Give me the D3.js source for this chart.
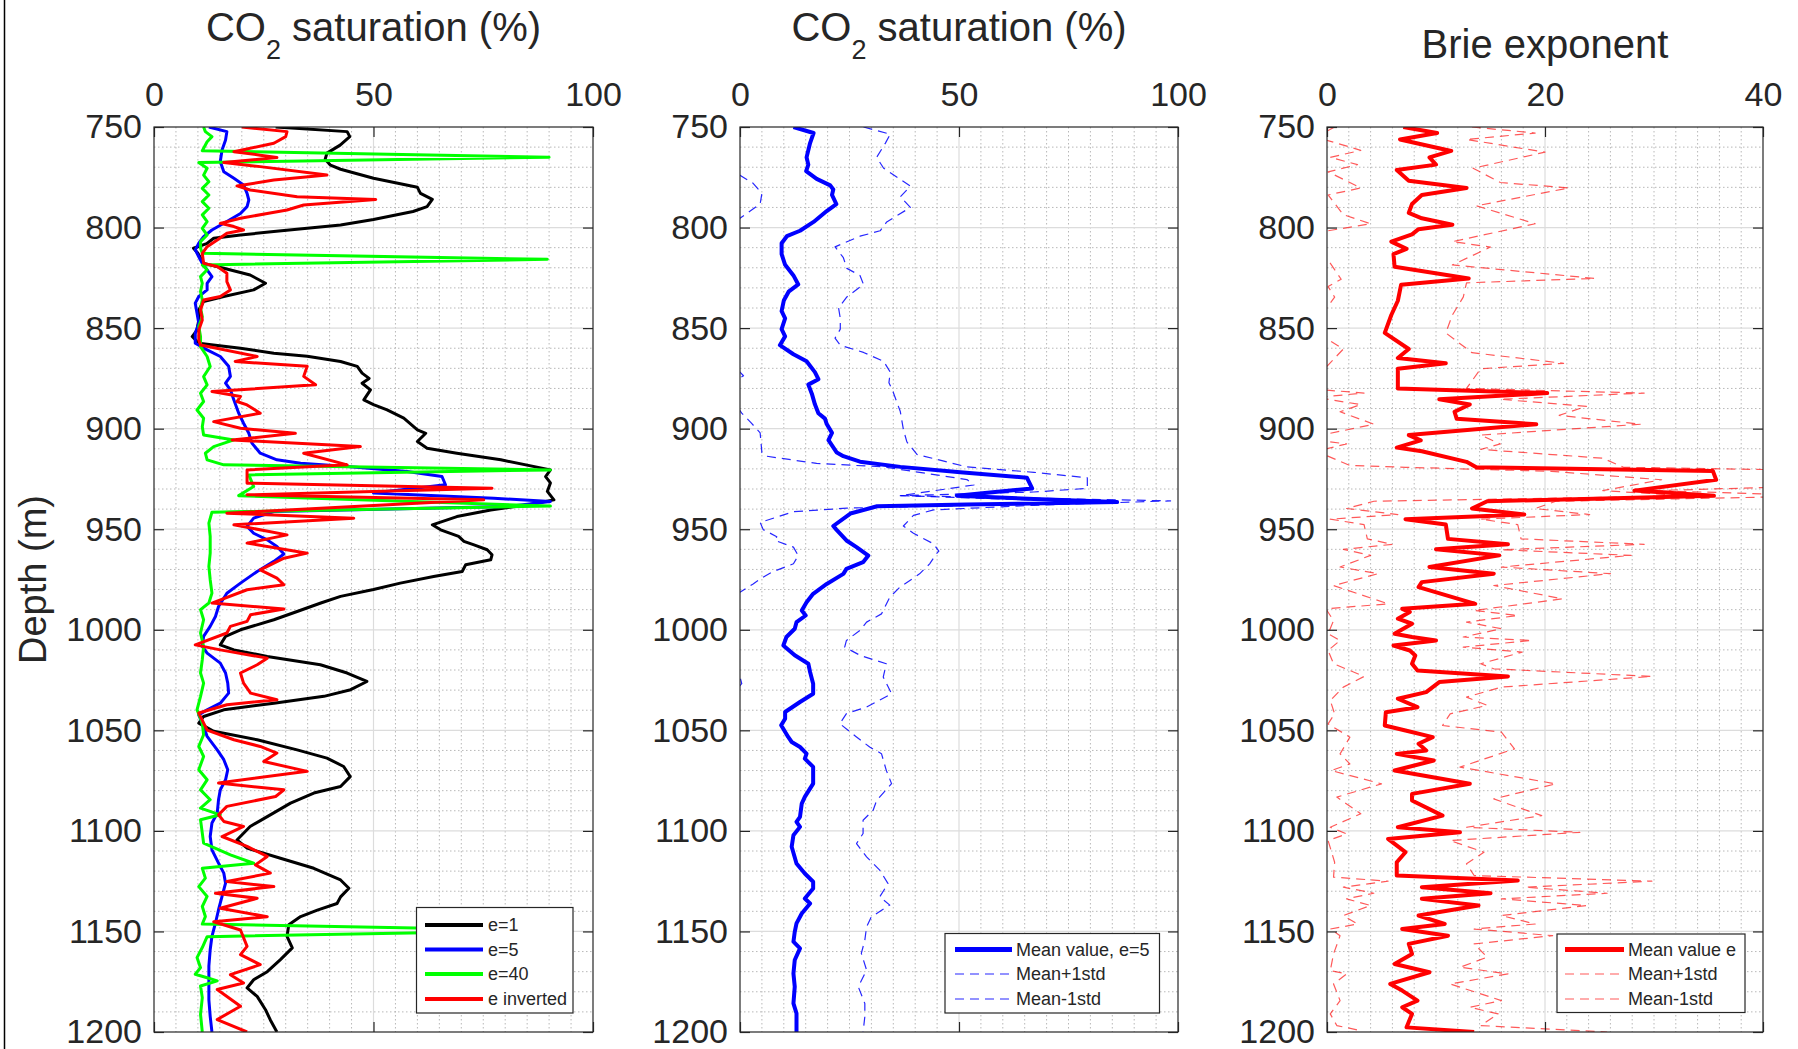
<!DOCTYPE html>
<html>
<head>
<meta charset="utf-8">
<script src="https://cdn.jsdelivr.net/npm/d3@7"></script>
<style>
body{margin:0;background:#fff;}
svg text{font-family:"Liberation Sans",Arial,Helvetica,sans-serif;fill:#262626;}
</style>
</head>
<body>
<script>
// depth (m), value pairs
const satE1 = [[750,27.7],[752.3,44],[754.8,44.6],[759,42.4],[763,39.4],[766,39],[769,40.2],[771,42.5],[775.5,50],[780,60],[783,60.7],[786,63.4],[789.6,62.2],[792,59],[796,50],[798.7,42.5],[800.4,34.9],[802,27.3],[803.7,19.7],[805.3,13.6],[808,12],[810.3,9],[812.8,10],[817.8,11.3],[820.2,15.9],[823.6,21.9],[827.7,25.4],[831,22.7],[834.3,15.9],[836.8,11.3],[841,10.2],[846,10.2],[851,9.8],[854.2,8.7],[857.5,10.2],[860,19.7],[862.5,27.3],[864,34.9],[866.6,42.5],[869,46.3],[872.4,47.4],[875,49],[877.4,47.4],[880.7,49.3],[885.7,47.8],[888,50],[890.7,53.1],[894.8,56.9],[900.6,60],[902.3,61.9],[906.4,60],[909.7,62.2],[912.2,69],[915.5,79],[920.5,90.3],[923.8,89.2],[927,90.3],[931.2,89.6],[935.4,91.1],[937.9,85],[940.4,76.7],[943.7,69],[947.8,63.4],[950.3,65.3],[953.6,69.4],[956,70.6],[957.8,72.9],[960.2,75.9],[962.7,77],[965.2,76.7],[967.7,71],[971,70.2],[973.5,63.7],[976.8,56.1],[980,50],[983.4,42.5],[986.7,38],[990.9,32.6],[995,27.3],[1000,19.7],[1003.3,16.3],[1007.5,15.1],[1010,18.2],[1013.3,25.8],[1017.4,37.9],[1021.5,44],[1025.7,48.5],[1029.8,44.8],[1033.1,38.7],[1036.5,27.3],[1039.8,15.9],[1043.1,11.3],[1046.4,10.2],[1050.5,13.6],[1054.7,23.5],[1059.7,32.6],[1063.8,39.4],[1068,43.2],[1073,44.7],[1077.9,42.5],[1081.2,36.4],[1086.2,31.1],[1092.9,25.8],[1097.8,21.9],[1104.5,18.9],[1108.6,21.2],[1113.6,28.8],[1118.6,36.4],[1124.4,42.5],[1128.5,44.4],[1132.8,42.5],[1136.1,41.7],[1139.4,37.2],[1142.6,33.4],[1146.7,30.7],[1152.5,30.3],[1158.2,31.5],[1164,28.8],[1170,25.8],[1174,22.7],[1178.1,21.2],[1182.3,23.5],[1188.9,25.4],[1194,26.5],[1200,28]];

const satE5 = [[750,12.5],[752.3,16.6],[756.5,16.3],[761.4,15.5],[767.2,15.1],[772.2,15.9],[775.5,18.2],[778.8,20.4],[783,21.2],[786.3,21.6],[789.6,21.2],[793,19.7],[797,16.6],[801.2,13.2],[804.5,11.3],[807.8,10.2],[811.1,9.4],[814.5,10.2],[817.8,11],[821.1,12.1],[824.4,13.2],[827.7,12.1],[831,12.1],[834.3,10.2],[837.6,9.4],[842.6,9.8],[847.6,10.2],[852.6,9.4],[857.5,9.4],[860.8,12.1],[864.1,15.1],[869,17],[874,17.4],[877.4,16.3],[880.7,17.4],[885.7,18.2],[892.3,19.3],[897.3,20.4],[902.3,21.6],[907.2,22.3],[912.2,24.2],[915.5,28],[917.2,33.4],[918.8,44],[921.3,57.7],[923.8,65.6],[927.9,66.4],[932,50],[934.6,77.4],[936.2,90.3],[938.7,80.5],[941.2,27.3],[944.5,22.7],[948.6,21.2],[952,22.7],[955.3,25.8],[958.6,28],[962.3,29.6],[966,27.3],[971,23.5],[976.8,19.7],[981.8,16.6],[988.4,14.7],[993.4,14],[998.3,12.8],[1003.3,11.3],[1008.3,11],[1011.6,12.1],[1016.6,15.1],[1021.5,16.3],[1026.5,16.8],[1031.5,17],[1036.5,15.1],[1039.8,12.1],[1042.3,10.2],[1046.4,11],[1053,12.1],[1059.7,14.4],[1064.6,15.9],[1069.6,16.8],[1074.6,16.3],[1079.6,15.1],[1084.5,14.7],[1091.2,14.4],[1096.1,13.2],[1102.8,12.8],[1109.4,13.2],[1116,14.7],[1121,15.9],[1126,16.3],[1132.6,15.5],[1139.2,14.7],[1145.8,14],[1152.4,13.2],[1159.1,12.8],[1167.3,12.5],[1175.7,12.5],[1184,12.5],[1192.2,12.8],[1200,13.2]];

const satE40 = [[750,11.3],[752.3,11.7],[754.8,13.2],[757.3,12.1],[761.8,11],[765,90],[767.7,10.2],[770.5,12.1],[773.9,11.3],[777.2,12.5],[780.5,11],[783.8,12.5],[787.1,11],[790.4,12.5],[793.7,11],[797,12.1],[800.4,11],[803.7,12.1],[807,10.6],[810.3,10.6],[812.8,11],[815.8,89.6],[818.6,11],[821,12.1],[824.4,10.6],[827.7,11],[831.8,10.6],[836,11],[840,10.6],[844.3,11],[849.2,10.2],[854.2,10.6],[859.2,10.6],[864.1,12.1],[869.1,12.8],[874.1,11.3],[878.2,12.1],[882.4,10.6],[886.5,11.3],[890.7,9.8],[894.8,11.3],[899,11],[903.1,11.3],[905.6,18.2],[908.9,13.6],[912.2,11.7],[915.5,12.1],[918,15.9],[920.5,90.3],[923,21.6],[928.8,22.7],[933.3,19.3],[938.5,90.3],[941.5,13.2],[947,12.5],[953.6,12.8],[961.9,12.8],[968.5,12.5],[975.1,12.8],[981.8,13.2],[986.7,12.5],[990,10.6],[995,11.3],[1001.6,10.6],[1008.3,11.3],[1014.9,11],[1021.5,10.6],[1026.5,11.3],[1033.1,10.6],[1039.8,9.8],[1046.4,11],[1052.2,11.3],[1058,10.2],[1063,11.3],[1069.6,10.2],[1074.6,12.1],[1079.6,10.6],[1084.5,12.8],[1088.7,10.6],[1092,15.1],[1094.5,10.6],[1101.1,11],[1106.1,11.3],[1111.9,17.4],[1116.1,22.7],[1118.6,11],[1123.5,11.7],[1127.7,10.2],[1132.6,12.1],[1137.6,11],[1142.6,11.7],[1146.3,11],[1149.5,90],[1152.6,12.1],[1158,11],[1163,9.8],[1168,10.6],[1171.3,9.4],[1173,12.1],[1174.6,14.4],[1177.1,10.6],[1182.9,11],[1191.2,10.6],[1200,11]];

const satInv = [[750,20],[752.3,30.3],[754.8,30],[758.1,27.3],[762.3,18.2],[764,24.2],[765.2,28],[767.7,15.9],[769.7,24.2],[773.9,39.4],[776.4,27.3],[779.3,18.9],[781.3,21.9],[784.7,32.6],[786,50.5],[788.8,34.1],[791.3,30.3],[793,25.8],[795.4,19.7],[797.9,15.1],[799.5,18.2],[801.2,20.4],[802.8,16.6],[806.2,14.4],[809.5,12.1],[812.8,11],[817.8,11.3],[819.4,14.4],[822.7,16.6],[826.9,16.6],[831,17.4],[834.3,15.1],[836,11.3],[841,10.6],[846,11],[851,10.2],[855.9,10.2],[858.4,10.6],[864.1,23.5],[866.6,18.5],[869,34.9],[874,34.1],[878.2,36.8],[881.5,13.2],[884,19.7],[886.5,18.9],[888.2,21.2],[892.3,24.2],[896.5,13.6],[899.8,19.7],[902.3,32.2],[905.6,17.8],[908.9,47],[912.2,34.1],[918,44],[920.5,21.2],[927.1,21.2],[929.6,77],[932.9,21.2],[935.4,75.1],[942,16.6],[944.5,45.5],[947.8,18.2],[952.8,30.3],[956.9,21.2],[961.9,34.9],[964.4,29.6],[970.2,24.2],[974.3,28],[977.6,29.6],[980.1,21.2],[986.7,13.2],[989.7,29.6],[992.5,22],[995.8,21.2],[998.3,17.4],[1001.6,16.6],[1007.5,9.4],[1010,15.1],[1014.1,25.8],[1017.4,23.5],[1021.5,19.7],[1026.5,20.4],[1031.5,22],[1034.8,28],[1037.3,16.6],[1041.4,10.2],[1049.9,12.1],[1054.7,18.2],[1058,24.2],[1061.3,28],[1065.5,25],[1070.4,34.9],[1076.2,14.7],[1079.6,29.6],[1082.9,27.7],[1087.8,16.6],[1092,14.7],[1095.3,15.9],[1097.8,20.4],[1102.8,15.5],[1107.7,21.2],[1112.7,25.8],[1116.9,23.1],[1121,26.5],[1125.2,16.6],[1127.7,27.3],[1131,14],[1133.5,23.5],[1138.5,15.1],[1142.7,25.8],[1145.2,13.6],[1149.3,19.7],[1157.4,21.2],[1161.5,19.7],[1166.5,24.2],[1171.5,17.4],[1175.6,20.4],[1178.9,14.4],[1187.2,19.7],[1193.8,14.4],[1200,21.2]];

const satMean = [[750,12.2],[753,16.8],[758,16],[765.1,15.2],[768.7,15.6],[771.9,15.1],[775.8,17.5],[779,20.6],[781.1,21.3],[783.8,21],[788.3,22],[791.8,19.8],[797.2,16.8],[801.6,13.7],[804.3,10.7],[807.8,9.5],[813.2,9.5],[818.5,10.3],[823.8,12.2],[828.3,13.3],[831.9,11.1],[836.3,10],[841.6,9.5],[845.2,10.3],[850.5,9.5],[854.1,10.3],[858.5,9.1],[863,12.2],[866.5,15.2],[871.9,17.1],[875.4,17.9],[878.1,15.6],[882.6,16.4],[887.9,17.1],[892.3,17.9],[895,19.4],[897.7,19.8],[902.1,21],[905.7,20.2],[911.9,22.1],[913.7,23.6],[916.4,27.4],[919,36.6],[921.7,50.3],[924.4,65.5],[929.7,66.7],[933.3,49.5],[935,67.1],[936.5,86.1],[937.7,51.8],[938.6,31.3],[942.2,25.2],[948.4,21.3],[950.2,22],[955.6,24.3],[958.9,26.6],[963.1,29.3],[966.4,28.1],[969.7,24.3],[972.2,23.6],[977.2,19.8],[982.1,16.7],[986.3,15.2],[990.4,14.1],[992.9,15],[996.2,12.9],[999.5,12.5],[1003.6,10.6],[1007.8,9.9],[1012.7,12.5],[1016.9,15.6],[1021,16],[1026.8,16.7],[1031.8,16.7],[1035.9,13.7],[1040.9,10.3],[1044.2,10.3],[1047.5,9.4],[1053.3,11],[1055.8,11.8],[1058.3,13.7],[1061.6,15.2],[1064.1,14.8],[1068.2,16.7],[1076.5,16.7],[1083.1,14.8],[1086.4,14.1],[1093,13.7],[1095.5,12.9],[1098,13.7],[1102.2,12.2],[1107.9,11.8],[1116.2,12.9],[1121.2,14.8],[1125.3,16.7],[1128.6,16.7],[1133.6,14.8],[1136.1,16],[1141.1,14.1],[1146,12.9],[1150.2,12.5],[1155.1,12.2],[1158.4,13.7],[1164.2,12.5],[1170.9,12.2],[1177.5,12.5],[1185.8,12.2],[1190.7,12.9],[1200,12.9]];

const satPlus = [[750,28.2],[753.6,34.3],[758,33.2],[765.1,31.2],[770.5,32.8],[779.4,38.9],[784.7,36.6],[790,38.9],[797.2,33.5],[801.6,32],[804.3,27.4],[809.6,21.7],[815,23.6],[820.3,24.4],[823.8,27.4],[828.3,28.2],[834.5,24.4],[839.9,22.5],[845.2,22.9],[850.5,22.9],[855,21.7],[858.5,22.9],[862.1,28.2],[866.5,32.8],[871.9,34.3],[877.2,34],[880.8,34.8],[891.5,36.6],[900.4,37.3],[906.6,38.1],[912.8,40.4],[919,51.8],[921.7,67.1],[924.4,79.3],[929.7,79.3],[931.5,67.1],[933.3,36.6],[935.9,98.3],[938.1,67.1],[940.4,44.2],[943.1,39.6],[948.4,37.3],[952,39.6],[957.3,44.2],[960.9,45.4],[962.3,44.8],[967.2,43.3],[972.2,41],[978.8,36.5],[983.8,34.2],[992.1,32.3],[996.2,28.9],[1000.3,27.4],[1005.3,24.3],[1008.6,23.9],[1012.7,27.4],[1016.9,33.4],[1023.5,32.7],[1031.8,34.6],[1038.4,28.9],[1041.7,24.3],[1046.7,22.8],[1053.3,26.6],[1058.3,29.6],[1061.6,32.3],[1069.9,33.4],[1076.5,34.6],[1084.8,31.2],[1089.7,30.4],[1094.7,28.1],[1101.3,28.1],[1106.3,26.6],[1112.9,28.9],[1119.5,31.9],[1126.2,33.8],[1132.8,31.9],[1136.9,34.2],[1142.7,30],[1147.7,28.9],[1154.3,28.5],[1160.9,27.7],[1169.2,28.9],[1177.5,27],[1185.8,28.5],[1192.4,28.5],[1200,28.1]];

const satMinus = [[750,-4],[760,-6],[768,-3],[774,0],[778,3],[783,5],[788.3,4.6],[795.4,0],[800,-3],[810,-5],[820,-4],[830,-6],[840,-5],[850,-7],[860,-4],[866,-2],[871.9,0],[873.7,0.8],[876,-1],[882,-2],[888,-1],[892.3,0.4],[897,2.5],[902.1,4.6],[911.9,5],[913.7,6.1],[917.3,17.5],[919,32.8],[925.3,51.8],[928,53.4],[933.3,36.6],[936.5,82],[938.6,44.2],[939.5,24.4],[941.3,12.2],[946.6,4.6],[950.2,5.3],[953.7,8.4],[955.6,8],[958.9,12.2],[963.1,13.3],[967.2,12.2],[971.4,7.2],[974.7,4.6],[977.2,3],[981.3,0],[988,-3],[1000,-5],[1010,-3],[1020,-0.5],[1023.5,0],[1026.8,0.4],[1030,-1],[1040,-4],[1050,-7],[1060,-3],[1070,-2],[1080,-3],[1090,-4],[1100,-5],[1110,-4],[1120,-2],[1130,-1],[1140,-3],[1150,-4],[1160,-3],[1170,-4],[1180,-3],[1190,-4],[1200,-3]];

const brieMean = [[750,7],[753,10.1],[756.2,6.7],[761.9,11.4],[765.1,9.4],[768.7,10],[771.4,6.4],[776.7,7.5],[780.3,12.8],[783.8,8.7],[788.3,7.8],[792.7,7.5],[795.4,8.7],[798.6,11.5],[800.8,8.4],[803.4,7.8],[807,5.9],[810.6,7.3],[813.2,6.1],[819.5,6.2],[825.3,13],[828.4,6.8],[836.4,6.5],[843.5,5.9],[852.4,5.3],[860.4,7.5],[864.9,6.5],[867.5,10.9],[870.2,6.5],[880,6.5],[882.3,20.2],[885.4,10.3],[888,13.1],[891.6,11.7],[895.1,11.9],[897.8,19.2],[903.2,7.5],[905.8,8.6],[909.4,6.4],[911.2,8.7],[916.5,12.8],[919.2,13.7],[921,35.4],[925.4,35.7],[930.8,28.2],[933.4,35.5],[936.1,14.7],[939.7,13.3],[942.7,18.1],[945,7.2],[947.7,10.9],[954.8,11.1],[957.5,16.6],[960,10],[963,15.8],[968.8,9.4],[972.1,15.3],[976.3,8.7],[978.8,8.4],[987.1,13.6],[989.6,6.9],[991.2,7.6],[994.5,6.5],[997,7.8],[1002,6.2],[1003.6,7.8],[1005.3,10],[1007.8,6.1],[1010.3,7.6],[1012.8,8.1],[1016.9,7.8],[1020.2,8.3],[1023.2,16.6],[1026,10.3],[1031,9.1],[1034.3,6.5],[1038.5,8.3],[1041,5.4],[1047.6,5.3],[1050.1,7.2],[1053.4,9.7],[1056.7,8.4],[1060,9.1],[1061.7,6.4],[1065,9.8],[1070,6.2],[1076.6,13.1],[1081.6,7.8],[1084.9,7.8],[1092.4,10.6],[1098.2,6.5],[1100.7,12.2],[1104,5.6],[1110.6,7.2],[1115.6,6.4],[1122.2,6.4],[1124.7,17.5],[1128,8.7],[1131,15],[1133.8,8.7],[1137.1,13.9],[1142.1,8.4],[1146.3,10.8],[1148.8,6.9],[1152.1,11.1],[1156.2,7.5],[1161.2,7.8],[1166.2,6.2],[1170.3,9.4],[1176.1,5.8],[1179.4,6.9],[1184.4,8.3],[1187.7,6.9],[1191,7.8],[1197.7,7.3],[1200,13.5]];

const briePlus = [[750,13.3],[753,19.1],[756.2,12.8],[762.5,20],[770.5,13.4],[777.6,15.9],[780.3,22.2],[789.2,13.7],[798.1,19.1],[807,11.5],[809.7,15],[818.6,11.5],[825.3,24.6],[827.5,12.8],[834.6,12.5],[843.5,11.5],[852.4,10.9],[862.2,13.3],[867.5,21.7],[870.2,14.1],[880,12.8],[882.3,29.1],[885.4,15.9],[888.9,23.8],[893.4,21.3],[897.8,28.8],[903.2,14.1],[907.6,15.9],[910.3,14.1],[914.7,25.3],[919.2,27.2],[921,48],[925.4,47],[929,42],[930.8,30.1],[933.4,46],[936.1,21],[939.7,19.1],[942.7,24.1],[945,14.1],[947.7,17.5],[954.8,17.8],[957.5,29.1],[960.2,16],[963,27.9],[968.8,16],[972.1,26],[978,15.3],[984.6,21.6],[990.4,13.5],[992.9,17.5],[996.2,12.8],[999.5,16],[1003.6,12.5],[1005.3,18.8],[1008.6,12.5],[1011.1,17.9],[1016.9,14.1],[1019.4,15.3],[1023.2,29.8],[1028.5,16],[1033.5,12.8],[1037.6,14.7],[1041.8,11.3],[1047.6,10.6],[1050.9,16],[1059.2,17.2],[1068.3,12.2],[1076.6,21],[1084.1,15.3],[1092.4,19.7],[1098.2,12.8],[1100.7,23.2],[1104.8,11.3],[1110.6,14.4],[1116.4,12.8],[1122.2,13.5],[1125,29.8],[1128,18.2],[1131,25.7],[1133.8,16],[1137.1,23.8],[1142.1,16],[1146.3,19.1],[1148.8,13.5],[1152.1,20.7],[1156.2,13.5],[1162.8,14.7],[1167.8,12.2],[1171.1,16.6],[1176.1,11.3],[1184.4,16],[1187.7,13.1],[1191,15.7],[1196.8,14.1],[1200,25.7]];

const brieMinus = [[750,0.7],[755,-1],[761.6,3.1],[765.1,0.3],[768.7,2.8],[772.3,0.1],[780.3,3.1],[783.8,0.1],[793.6,1.5],[798.1,4],[801.6,0.1],[811.4,-0.5],[825.7,1.3],[829.3,0.1],[834.6,0.7],[843.5,-0.5],[852,-1],[860.4,1.5],[868.4,0.1],[880,-2],[882.3,3.4],[884.5,-1],[888,3.1],[891.6,1.2],[897.8,4.3],[904.9,-2],[907.6,1.8],[911.2,-1],[918.3,2.1],[919.2,7.2],[921.2,20.6],[925.4,30.7],[930.8,25.3],[933.4,33.2],[936.1,4.3],[939.7,1.8],[942.7,6.5],[945,0.3],[947.7,3.4],[954.8,3.7],[957.5,6],[960,1.5],[963,4],[968.8,1.2],[972.1,4.7],[978,0.6],[987.1,5.6],[989.6,-0.1],[995.4,0.6],[1002,0.1],[1005.3,1.2],[1010.3,0.1],[1016.9,0.6],[1023.2,3.4],[1028.5,1.5],[1035.2,0.3],[1041.8,0.7],[1046.8,0.1],[1053.4,2.1],[1061.7,1.2],[1066.7,2.1],[1070,0.4],[1076.6,5],[1083.2,0.9],[1091.5,3.1],[1098.2,0.3],[1101.5,1.8],[1104.8,0.1],[1115.6,0.7],[1123,0.6],[1125,5.6],[1128,1.5],[1131,4.3],[1133.8,1.8],[1137.1,4],[1142.1,1.5],[1146.3,2.8],[1148.8,0.3],[1152.1,1.2],[1161.2,0.6],[1169.5,0.3],[1171.1,1.8],[1176.1,0.6],[1184.4,1.2],[1191,0.3],[1196.8,0.9],[1199.3,3.1]];

const depthTicks = [750,800,850,900,950,1000,1050,1100,1150,1200];
const satTicks = [0,50,100];
const brieTicks = [0,20,40];

const W = 1798, H = 1049;
const plotTop = 127, plotBottom = 1032;
const FONT = '"Liberation Sans",Arial,Helvetica,sans-serif';

const svg = d3.select('body').append('svg').attr('width',W).attr('height',H);

// thin frame line at far left
svg.append('line').attr('x1',4.5).attr('x2',4.5).attr('y1',0).attr('y2',H).attr('stroke','#000').attr('stroke-width',1.5);

const panels = [
  {x0:154, x1:593, dom:[0,100], ticks:satTicks, minor:5, title:'co2', titleY:41,
   series:[
     {data:satE1, color:'#000000', width:3, label:'e=1'},
     {data:satE5, color:'#0000ff', width:3, label:'e=5'},
     {data:satE40, color:'#00ff00', width:3, label:'e=40'},
     {data:satInv, color:'#ff0000', width:3, label:'e inverted'}
   ],
   legend:{x:416.5, y:907.5, w:156.5, h:105.5, rows:[925,949.5,974,999], lx0:425, lx1:483, tx:488, lw:4}},
  {x0:740, x1:1178, dom:[0,100], ticks:satTicks, minor:5, title:'co2', titleY:41,
   series:[
     {data:satMean, color:'#0000ff', width:4, label:'Mean value, e=5'},
     {data:satPlus, color:'#0000ff', width:1.2, dash:'9,6', op:0.85, label:'Mean+1std'},
     {data:satMinus, color:'#0000ff', width:1.2, dash:'9,6', op:0.85, label:'Mean-1std'}
   ],
   legend:{x:945, y:933.5, w:214.5, h:79.5, rows:[949.5,974,999], lx0:955, lx1:1012, tx:1016, lw:null}},
  {x0:1327, x1:1763, dom:[0,40], ticks:brieTicks, minor:2, title:'Brie exponent', titleY:58,
   series:[
     {data:brieMean, color:'#ff0000', width:4, label:'Mean value e'},
     {data:briePlus, color:'#ff0000', width:1.2, dash:'9,6', op:0.65, label:'Mean+1std'},
     {data:brieMinus, color:'#ff0000', width:1.2, dash:'9,6', op:0.65, label:'Mean-1std'}
   ],
   legend:{x:1557, y:934, w:188, h:78.5, rows:[949.5,974,999], lx0:1565, lx1:1624, tx:1628, lw:null}}
];

panels.forEach((p, pi) => {
  const x = d3.scaleLinear().domain(p.dom).range([p.x0, p.x1]);
  const y = d3.scaleLinear().domain([750,1200]).range([plotTop, plotBottom]);
  const g = svg.append('g');

  g.append('clipPath').attr('id','clip'+pi)
    .append('rect').attr('x',p.x0).attr('y',plotTop).attr('width',p.x1-p.x0).attr('height',plotBottom-plotTop);

  // minor grid
  const xMinor = d3.range(p.dom[0]+p.minor, p.dom[1], p.minor).filter(v => !p.ticks.includes(v));
  const yMinor = d3.range(760, 1200, 10).filter(v => v % 50 !== 0);
  g.selectAll('.xminor').data(xMinor).enter().append('line')
    .attr('x1',d=>x(d)).attr('x2',d=>x(d)).attr('y1',plotTop).attr('y2',plotBottom)
    .attr('stroke','#b8b8b8').attr('stroke-width',1).attr('stroke-dasharray','1.5,2.5');
  g.selectAll('.yminor').data(yMinor).enter().append('line')
    .attr('x1',p.x0).attr('x2',p.x1).attr('y1',d=>y(d)).attr('y2',d=>y(d))
    .attr('stroke','#b8b8b8').attr('stroke-width',1).attr('stroke-dasharray','1.5,2.5');
  // major grid
  g.selectAll('.xmajor').data(p.ticks.slice(1,-1)).enter().append('line')
    .attr('x1',d=>x(d)).attr('x2',d=>x(d)).attr('y1',plotTop).attr('y2',plotBottom)
    .attr('stroke','#dcdcdc').attr('stroke-width',1.2);
  g.selectAll('.ymajor').data(depthTicks.slice(1,-1)).enter().append('line')
    .attr('x1',p.x0).attr('x2',p.x1).attr('y1',d=>y(d)).attr('y2',d=>y(d))
    .attr('stroke','#dcdcdc').attr('stroke-width',1.2);

  // data lines
  const line = d3.line().x(d=>x(d[1])).y(d=>y(d[0]));
  const lines = g.append('g').attr('clip-path','url(#clip'+pi+')');
  p.series.forEach(s => {
    lines.append('path').datum(s.data)
      .attr('d', line)
      .attr('fill','none')
      .attr('stroke', s.color)
      .attr('stroke-width', s.width)
      .attr('stroke-opacity', s.op || 1)
      .attr('stroke-dasharray', s.dash || null)
      .attr('stroke-linejoin','round');
  });

  // axes (ticks inside, box style)
  const styleAxis = sel => {
    sel.select('.domain').remove();
    sel.selectAll('.tick line').attr('stroke','#262626').attr('stroke-width',1.2);
    sel.selectAll('.tick text').attr('font-size',34).attr('font-family',FONT).attr('fill','#262626');
  };
  g.append('g').attr('transform','translate(0,'+plotTop+')')
    .call(d3.axisTop(x).tickValues(p.ticks).tickSize(-10).tickPadding(21).tickFormat(d3.format('d'))).call(styleAxis);
  g.append('g').attr('transform','translate(0,'+plotBottom+')')
    .call(d3.axisBottom(x).tickValues(p.ticks).tickSize(-10).tickFormat('')).call(styleAxis);
  g.append('g').attr('transform','translate('+p.x0+',0)')
    .call(d3.axisLeft(y).tickValues(depthTicks).tickSize(-10).tickPadding(12).tickFormat(d3.format('d'))).call(styleAxis);
  g.append('g').attr('transform','translate('+p.x1+',0)')
    .call(d3.axisRight(y).tickValues(depthTicks).tickSize(-10).tickFormat('')).call(styleAxis);

  g.append('rect').attr('x',p.x0).attr('y',plotTop).attr('width',p.x1-p.x0).attr('height',plotBottom-plotTop)
    .attr('fill','none').attr('stroke','#262626').attr('stroke-width',1.2);

  // title
  const cx = (p.x0 + p.x1) / 2;
  const t = g.append('text').attr('x',cx).attr('y',p.titleY).attr('text-anchor','middle')
    .attr('font-size',40);
  if (p.title === 'co2') {
    t.append('tspan').text('CO');
    t.append('tspan').attr('font-size',27).attr('dy',18).text('2');
    t.append('tspan').attr('dy',-18).text(' saturation (%)');
  } else {
    t.text(p.title);
  }

  // legend
  const L = p.legend;
  const lg = g.append('g');
  lg.append('rect').attr('x',L.x).attr('y',L.y).attr('width',L.w).attr('height',L.h)
    .attr('fill','#fff').attr('stroke','#262626').attr('stroke-width',1.2);
  p.series.forEach((s, i) => {
    lg.append('line').attr('x1',L.lx0).attr('x2',L.lx1).attr('y1',L.rows[i]).attr('y2',L.rows[i])
      .attr('stroke',s.color).attr('stroke-width',L.lw || (s.width > 2 ? 5 : 1.2))
      .attr('stroke-opacity',s.op || 1).attr('stroke-dasharray',s.dash || null);
    lg.append('text').attr('x',L.tx).attr('y',L.rows[i]).attr('dy','0.35em')
      .attr('font-size',18).text(s.label);
  });
});

// shared y label
svg.append('text').attr('transform','translate(46,579.5) rotate(-90)')
  .attr('text-anchor','middle').attr('font-size',38).text('Depth (m)');
</script>
</body>
</html>
